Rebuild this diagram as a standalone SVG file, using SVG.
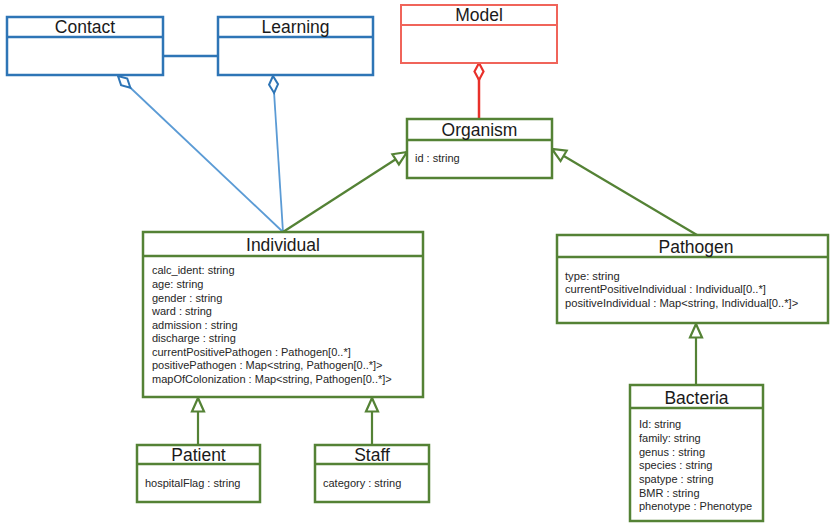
<svg xmlns="http://www.w3.org/2000/svg" width="830" height="524" viewBox="0 0 830 524">
<style>
.bg{fill:#ffffff}
.blue{fill:#ffffff;stroke:#2e75b6;stroke-width:2.5}
.red{fill:#ffffff;stroke:#f0645a;stroke-width:2}
.green{fill:#ffffff;stroke:#548235;stroke-width:2.5}
.t{font-family:"Liberation Sans",Arial,sans-serif;font-size:17.5px;fill:#1a1a1a;text-anchor:middle}
.a{font-family:"Liberation Sans",Arial,sans-serif;font-size:11px;fill:#262626}
.a2{font-family:"Liberation Sans",Arial,sans-serif;font-size:11.2px;fill:#262626}
.cb{stroke:#5b9bd5;stroke-width:1.8;fill:none}
.cr{stroke:#e8302a;stroke-width:2.5;fill:none}
.cg{stroke:#548235;stroke-width:2.2;fill:none}
</style>
<defs>
<marker id="dBlue" markerUnits="userSpaceOnUse" markerWidth="20" markerHeight="12" refX="1" refY="5" orient="auto" viewBox="0 0 20 10" overflow="visible">
<path d="M1,5 L9.5,0.5 L18,5 L9.5,9.5 z" fill="#ffffff" stroke="#2e75b6" stroke-width="2"/>
</marker>
<marker id="dRed" markerUnits="userSpaceOnUse" markerWidth="20" markerHeight="12" refX="1" refY="5" orient="auto" viewBox="0 0 20 10" overflow="visible">
<path d="M1,5 L9.5,0.5 L18,5 L9.5,9.5 z" fill="#ffffff" stroke="#e8302a" stroke-width="2.2"/>
</marker>
<marker id="tri" markerUnits="userSpaceOnUse" markerWidth="16" markerHeight="14" refX="14" refY="6.5" orient="auto" viewBox="0 0 16 13" overflow="visible">
<path d="M14,6.5 L0.5,0.5 L0.5,12.5 z" fill="#ffffff" stroke="#548235" stroke-width="2.2"/>
</marker>
</defs>
<rect class="bg" x="0" y="0" width="830" height="524"/>

<g id="connectors">
<line class="cb" x1="163" y1="56" x2="218" y2="56" style="stroke:#2e75b6;stroke-width:2.5"/>
<line class="cb" x1="118" y1="76" x2="283" y2="232" marker-start="url(#dBlue)"/>
<line class="cb" x1="273" y1="76" x2="283" y2="232" marker-start="url(#dBlue)"/>
<line class="cr" x1="479" y1="63" x2="479" y2="119" marker-start="url(#dRed)"/>
<line class="cg" x1="283" y1="232" x2="407" y2="152" marker-end="url(#tri)"/>
<line class="cg" x1="697" y1="235" x2="552" y2="149" marker-end="url(#tri)"/>
<line class="cg" x1="198" y1="445" x2="198" y2="398" marker-end="url(#tri)"/>
<line class="cg" x1="372" y1="445" x2="372" y2="398" marker-end="url(#tri)"/>
<line class="cg" x1="696" y1="385" x2="696" y2="324" marker-end="url(#tri)"/>
</g>

<g id="contact">
<rect class="blue" x="7" y="17" width="156" height="58"/>
<line class="blue" x1="7" y1="37" x2="163" y2="37"/>
<text class="t" x="85" y="33">Contact</text>
</g>

<g id="learning">
<rect class="blue" x="218" y="17" width="155" height="58"/>
<line class="blue" x1="218" y1="37" x2="373" y2="37"/>
<text class="t" x="295.5" y="33">Learning</text>
</g>

<g id="model">
<rect class="red" x="401" y="5" width="156" height="58"/>
<line class="red" x1="401" y1="25" x2="557" y2="25"/>
<text class="t" x="479" y="21">Model</text>
</g>

<g id="organism">
<rect class="green" x="407" y="119" width="145" height="59"/>
<line class="green" x1="407" y1="140" x2="552" y2="140"/>
<text class="t" x="479.5" y="136">Organism</text>
<text class="a" x="415" y="162">id : string</text>
</g>

<g id="individual">
<rect class="green" x="143" y="232" width="280" height="165"/>
<line class="green" x1="143" y1="256" x2="423" y2="256"/>
<text class="t" x="283" y="251">Individual</text>
<text class="a" x="152" y="274">calc_ident: string</text>
<text class="a" x="152" y="288">age: string</text>
<text class="a" x="152" y="301.5">gender : string</text>
<text class="a" x="152" y="315">ward : string</text>
<text class="a" x="152" y="328.5">admission : string</text>
<text class="a" x="152" y="342">discharge : string</text>
<text class="a" x="152" y="355.5">currentPositivePathogen : Pathogen[0..*]</text>
<text class="a" x="152" y="369">positivePathogen : Map&lt;string, Pathogen[0..*]&gt;</text>
<text class="a" x="152" y="382.5">mapOfColonization : Map&lt;string, Pathogen[0..*]&gt;</text>
</g>

<g id="pathogen">
<rect class="green" x="557" y="235" width="271" height="88"/>
<line class="green" x1="557" y1="257" x2="828" y2="257"/>
<text class="t" x="696" y="253">Pathogen</text>
<text class="a2" x="565" y="279.5">type: string</text>
<text class="a2" x="565" y="293">currentPositiveIndividual : Individual[0..*]</text>
<text class="a2" x="565" y="306.5">positiveIndividual : Map&lt;string, Individual[0..*]&gt;</text>
</g>

<g id="bacteria">
<rect class="green" x="630" y="385" width="133" height="136"/>
<line class="green" x1="630" y1="408" x2="763" y2="408"/>
<text class="t" x="696.5" y="404">Bacteria</text>
<text class="a" x="639" y="428">Id: string</text>
<text class="a" x="639" y="442">family: string</text>
<text class="a" x="639" y="455.5">genus : string</text>
<text class="a" x="639" y="469">species : string</text>
<text class="a" x="639" y="483">spatype : string</text>
<text class="a" x="639" y="496.5">BMR : string</text>
<text class="a" x="639" y="510">phenotype : Phenotype</text>
</g>

<g id="patient">
<rect class="green" x="137" y="445" width="123" height="57"/>
<line class="green" x1="137" y1="464" x2="260" y2="464"/>
<text class="t" x="198.5" y="461">Patient</text>
<text class="a" x="145" y="487">hospitalFlag : string</text>
</g>

<g id="staff">
<rect class="green" x="315" y="445" width="114" height="57"/>
<line class="green" x1="315" y1="464" x2="429" y2="464"/>
<text class="t" x="372" y="461">Staff</text>
<text class="a" x="323" y="487">category : string</text>
</g>
</svg>
